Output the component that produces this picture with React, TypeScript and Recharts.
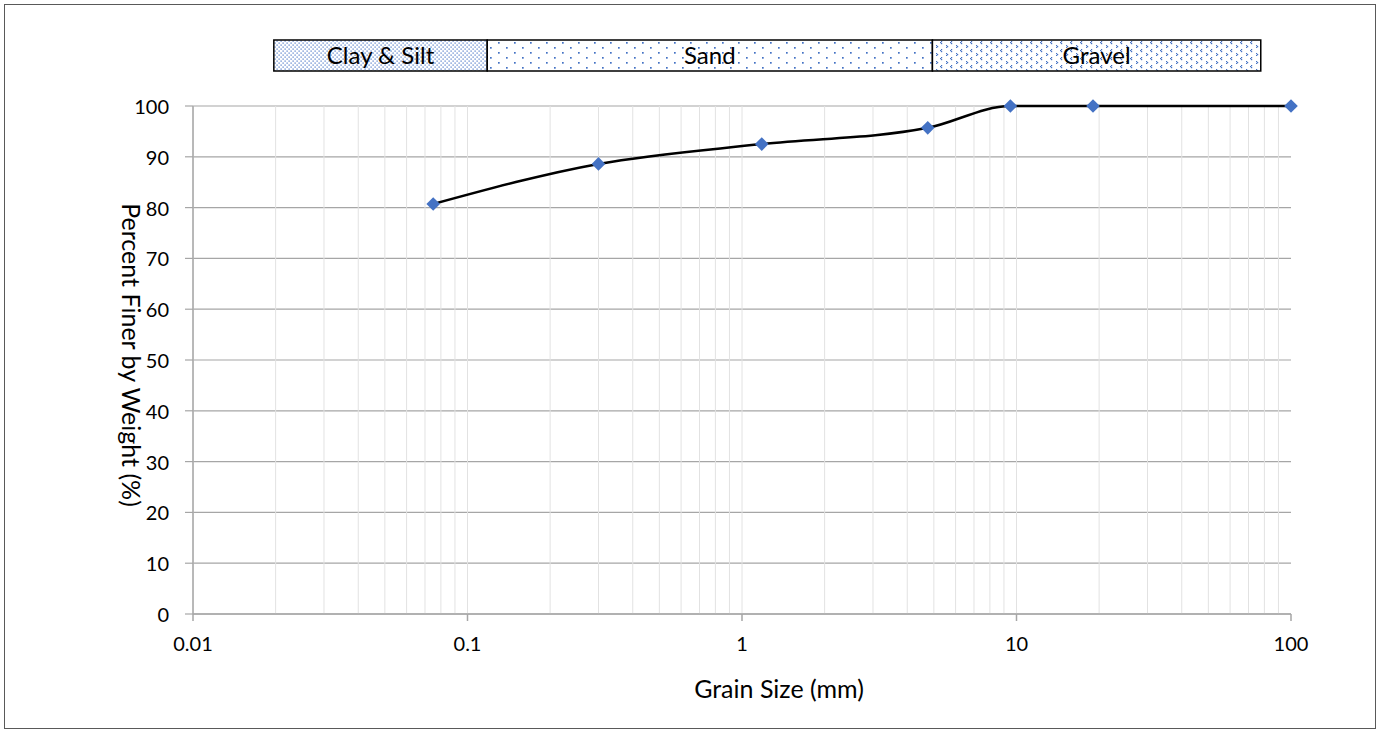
import { LineChart, Line, XAxis, YAxis, CartesianGrid, ReferenceArea, ReferenceLine, Label } from "recharts";

// sieve analysis
const sieveSize = [0.075, 0.3, 1.18, 4.75, 9.5, 19, 100];
const percentFiner = [80.7, 88.6, 92.5, 95.7, 100, 100, 100];

const xTicks = [0.01, 0.1, 1, 10, 100];
const yTicks = [0, 10, 20, 30, 40, 50, 60, 70, 80, 90, 100];
const decades = [0.01, 0.1, 1, 10];
const minorSteps = [2, 3, 4, 5, 6, 7, 8, 9];

// soil class band above the plot
const bandNames = ["Clay & Silt", "Sand", "Gravel"];
const bandEdges = [0.0197, 0.118, 4.94, 77.6];
const bandFills = ["url(#clayDots)", "url(#sandDots)", "url(#gravelDots)"];
const bandBottom = 106.9;
const bandTop = 113;

const data = sieveSize.map((s, i) => ({ size: s, finer: percentFiner[i] }));
const minorLines = decades.flatMap((d) => [d, ...minorSteps.map((m) => m * d)]);

const FONT = "Lato, 'Open Sans', sans-serif";
const Y_AXIS_W = 193;

function Diamond(props: any) {
  const { cx, cy, index } = props;
  const r = 6.8;
  return (
    <path
      key={`d-${index}`}
      d={`M${cx},${cy - r} L${cx + r},${cy} L${cx},${cy + r} L${cx - r},${cy} Z`}
      fill="#4472c4"
    />
  );
}

function YTick(props: any) {
  const { y, payload } = props;
  return (
    <text
      x={Y_AXIS_W - 24}
      y={y}
      textAnchor="end"
      dominantBaseline="central"
      fontSize={20}
      fill="#000"
      fontFamily={FONT}
    >
      {payload.value}
    </text>
  );
}

export default function App() {
  return (
    <div style={{ position: "relative", width: 1381, height: 734, background: "#fff" }}>
      <style>{`body{margin:0}`}</style>
      <div
        style={{
          position: "absolute",
          left: 4,
          top: 4,
          width: 1372,
          height: 725,
          border: "1.5px solid #595959",
          boxSizing: "border-box",
          pointerEvents: "none",
        }}
      />
      <LineChart
        width={1381}
        height={734}
        data={data}
        margin={{ top: 106, right: 90, bottom: 0, left: 0 }}
        style={{ fontFamily: FONT }}
      >
        <defs>
          <pattern id="clayDots" width="4" height="4" patternUnits="userSpaceOnUse">
            <rect width="4" height="4" fill="#fff" />
            <rect x="0.5" y="0.5" width="1.2" height="1.2" fill="#4472c4" />
            <rect x="2.5" y="2.5" width="1.2" height="1.2" fill="#4472c4" />
          </pattern>
          <pattern id="sandDots" width="16" height="10" patternUnits="userSpaceOnUse">
            <rect width="16" height="10" fill="#fff" />
            <rect x="2" y="2" width="1.7" height="1.7" fill="#4472c4" />
            <rect x="10" y="7" width="1.7" height="1.7" fill="#4472c4" />
          </pattern>
          <pattern id="gravelDots" width="10" height="8" patternUnits="userSpaceOnUse">
            <rect width="10" height="8" fill="#fff" />
            <rect x="1" y="1" width="1.2" height="1.2" fill="#4472c4" />
            <rect x="0" y="2" width="1.2" height="1.2" fill="#4472c4" />
            <rect x="1" y="3" width="1.2" height="1.2" fill="#4472c4" />
            <rect x="6" y="5" width="1.2" height="1.2" fill="#4472c4" />
            <rect x="7" y="6" width="1.2" height="1.2" fill="#4472c4" />
            <rect x="6" y="7" width="1.2" height="1.2" fill="#4472c4" />
          </pattern>
        </defs>
        <CartesianGrid vertical={false} stroke="#a6a6a6" strokeWidth={1.2} />
        {minorLines.map((v) => (
          <ReferenceLine key={`m-${v}`} x={v} stroke="#e2e2e2" strokeWidth={1} />
        ))}
        <XAxis
          dataKey="size"
          type="number"
          scale="log"
          domain={[0.01, 100]}
          ticks={xTicks}
          tickFormatter={(v) => String(v)}
          height={120}
          axisLine={{ stroke: "#a6a6a6", strokeWidth: 1.5 }}
          tickLine={{ stroke: "#a6a6a6", strokeWidth: 1.5 }}
          tickSize={7}
          tickMargin={16}
          tick={{ fontSize: 20, fill: "#000", fontFamily: FONT }}
        >
          <Label
            content={(p: any) => {
              const vb = p.viewBox;
              return (
                <text
                  x={vb.x + vb.width / 2 + 37}
                  y={vb.y + 74}
                  textAnchor="middle"
                  dominantBaseline="central"
                  fontSize={25}
                  fill="#000"
                  fontFamily={FONT}
                >
                  Grain Size (mm)
                </text>
              );
            }}
          />
        </XAxis>
        <YAxis
          type="number"
          domain={[0, 100]}
          ticks={yTicks}
          width={Y_AXIS_W}
          axisLine={{ stroke: "#a6a6a6", strokeWidth: 1.5 }}
          tickLine={{ stroke: "#a6a6a6", strokeWidth: 1.2 }}
          tickSize={8}
          tick={<YTick />}
        >
          <Label
            content={(p: any) => {
              const vb = p.viewBox;
              const cx = vb.x + vb.width - 61;
              const cy = vb.y + vb.height / 2 - 5;
              return (
                <text
                  x={cx}
                  y={cy}
                  textAnchor="middle"
                  dominantBaseline="central"
                  fontSize={25}
                  fill="#000"
                  fontFamily={FONT}
                  transform={`rotate(90, ${cx}, ${cy})`}
                >
                  Percent Finer by Weight (%)
                </text>
              );
            }}
          />
        </YAxis>
        {bandNames.map((name, i) => (
          <ReferenceArea
            key={name}
            x1={bandEdges[i]}
            x2={bandEdges[i + 1]}
            y1={bandBottom}
            y2={bandTop}
            ifOverflow="visible"
            fill={bandFills[i]}
            fillOpacity={1}
            stroke="#000"
            strokeWidth={1.5}
          >
            <Label value={name} position="center" fill="#000" fontSize={24} fontFamily={FONT} />
          </ReferenceArea>
        ))}
        <Line
          type="monotone"
          dataKey="finer"
          stroke="#000"
          strokeWidth={2.5}
          dot={<Diamond />}
          activeDot={false}
          isAnimationActive={false}
        />
      </LineChart>
    </div>
  );
}
